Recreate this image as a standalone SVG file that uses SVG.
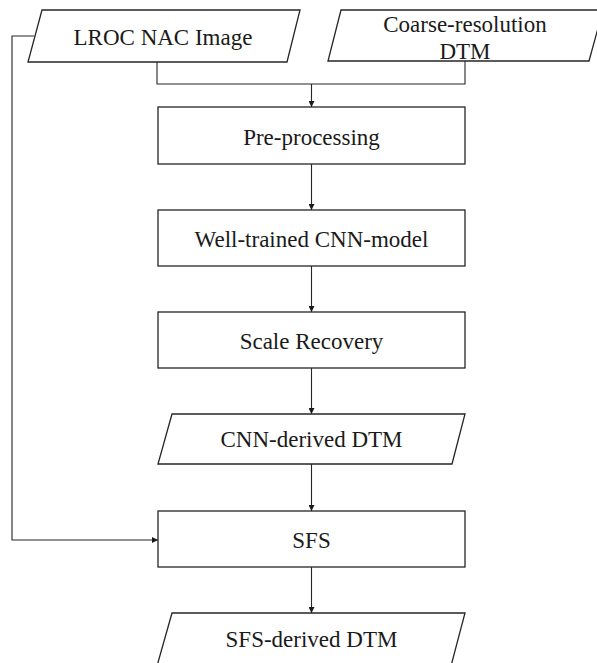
<svg xmlns="http://www.w3.org/2000/svg" width="597" height="663" viewBox="0 0 597 663">
  <style>
    .shape { fill: #ffffff; stroke: #262626; stroke-width: 1.3; }
    .label { font-family: "Liberation Serif", "Times New Roman", serif; font-size: 23px; fill: #1a1a1a; text-anchor: middle; }
    .wire { fill: none; stroke: #262626; stroke-width: 1.1; }
  </style>
  <defs>
    <marker id="arrow" viewBox="0 0 6 6" refX="6" refY="3" markerWidth="6" markerHeight="6" markerUnits="userSpaceOnUse" orient="auto">
      <path d="M0,0 L6,3 L0,6 Z" fill="#1a1a1a"/>
    </marker>
  </defs>
  <rect width="597" height="663" fill="#ffffff"/>

  <g id="connectors">
    <path class="wire" d="M157,62 V84 H465 V61"/>
    <path class="wire" d="M311.5,84 V107" marker-end="url(#arrow)"/>
    <path class="wire" d="M311.5,164 V210" marker-end="url(#arrow)"/>
    <path class="wire" d="M311.5,266 V312" marker-end="url(#arrow)"/>
    <path class="wire" d="M311.5,368 V414" marker-end="url(#arrow)"/>
    <path class="wire" d="M311.5,464 V511" marker-end="url(#arrow)"/>
    <path class="wire" d="M311.5,567 V613" marker-end="url(#arrow)"/>
    <path class="wire" d="M34,36 H12 V540 H158" marker-end="url(#arrow)"/>
  </g>

  <g id="lroc-image">
    <polygon class="shape" points="42,10 300,10 287,62 28,62"/>
    <text class="label" x="163" y="45">LROC NAC Image</text>
  </g>

  <g id="coarse-dtm">
    <polygon class="shape" points="341,10 603,10 589,61 328,61"/>
    <text class="label" x="465" y="32">Coarse-resolution</text>
    <text class="label" x="465" y="59">DTM</text>
  </g>

  <g id="pre-processing">
    <rect class="shape" x="158" y="107" width="307" height="57"/>
    <text class="label" x="311.5" y="145">Pre-processing</text>
  </g>

  <g id="cnn-model">
    <rect class="shape" x="158" y="210" width="307" height="56"/>
    <text class="label" x="311.5" y="247">Well-trained CNN-model</text>
  </g>

  <g id="scale-recovery">
    <rect class="shape" x="158" y="312" width="307" height="56"/>
    <text class="label" x="311.5" y="349">Scale Recovery</text>
  </g>

  <g id="cnn-dtm">
    <polygon class="shape" points="172,414 465,414 452,464 158,464"/>
    <text class="label" x="311.5" y="447">CNN-derived DTM</text>
  </g>

  <g id="sfs">
    <rect class="shape" x="158" y="511" width="307" height="56"/>
    <text class="label" x="311.5" y="548">SFS</text>
  </g>

  <g id="sfs-dtm">
    <polygon class="shape" points="172,613 465,613 451,666 157,666"/>
    <text class="label" x="311.5" y="647">SFS-derived DTM</text>
  </g>
</svg>
